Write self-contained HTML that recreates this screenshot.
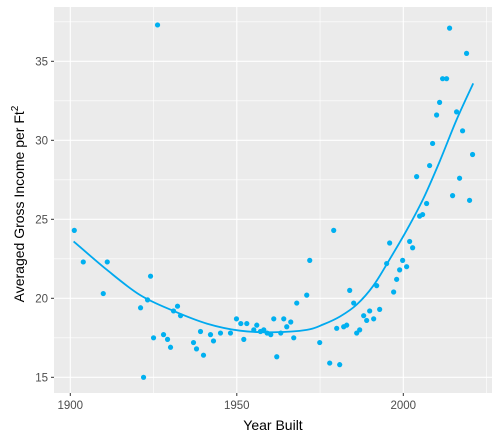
<!DOCTYPE html>
<html><head><meta charset="utf-8"><style>
body{margin:0;background:#fff;font-family:"Liberation Sans",sans-serif}
svg{display:block}
</style></head><body>
<svg id="chart" width="500" height="440">
<rect x="54" y="7" width="438" height="386" fill="#ebebeb"/>
<g id="grid"></g><g id="fit"></g><g id="pts"></g><g id="axes"></g>
<text x="273" y="430" text-anchor="middle" font-size="14" fill="#000">Year Built</text>
<text transform="translate(24,204) rotate(-90)" text-anchor="middle" font-size="14" fill="#000">Averaged Gross Income per Ft<tspan dy="-6" font-size="10">2</tspan></text>
</svg>
<script>
const years=[1901.2,1903.9,1909.9,1911.1,1921.1,1922.0,1923.2,1924.1,1925.0,1926.2,1928.0,1929.2,1930.1,1931.0,1932.2,1933.1,1937.0,1937.9,1939.1,1940.0,1942.1,1943.0,1945.1,1948.1,1949.9,1951.2,1952.1,1953.0,1955.1,1956.0,1957.1,1958.1,1959.1,1960.2,1961.1,1962.0,1963.2,1964.1,1965.0,1966.2,1967.1,1968.0,1971.0,1971.9,1974.9,1977.9,1979.1,1980.0,1980.9,1982.1,1983.0,1983.9,1985.1,1986.0,1986.9,1988.1,1989.0,1989.9,1991.1,1992.0,1992.9,1995.0,1995.9,1997.1,1998.0,1998.9,1999.8,2001.0,2001.9,2002.8,2004.0,2004.9,2005.8,2007.0,2007.9,2008.8,2010.0,2010.9,2011.8,2013.0,2013.9,2014.8,2016.0,2016.9,2017.8,2019.0,2019.9,2020.8];
const incomes=[24.3,22.3,20.3,22.3,19.4,15.0,19.9,21.4,17.5,37.3,17.7,17.4,16.9,19.2,19.5,18.9,17.2,16.8,17.9,16.4,17.7,17.3,17.8,17.8,18.7,18.4,17.4,18.4,18.0,18.3,17.9,18.0,17.8,17.7,18.7,16.3,17.8,18.7,18.2,18.5,17.5,19.7,20.2,22.4,17.2,15.9,24.3,18.1,15.8,18.2,18.3,20.5,19.7,17.8,18.0,18.9,18.6,19.2,18.7,20.8,19.3,22.2,23.5,20.4,21.2,21.8,22.4,22.0,23.6,23.2,27.7,25.2,25.3,26.0,28.4,29.8,31.6,32.4,33.9,33.9,37.1,26.5,31.8,27.6,30.6,35.5,26.2,29.1];
const fitYears=[1901,1911,1921,1931,1941,1951,1961,1971,1976,1981,1986,1991,1996,2001,2006,2011,2016,2021];
const fitValues=[23.6,21.8,20.2,19.2,18.4,17.95,17.85,18.0,18.35,18.85,19.6,20.8,22.5,24.3,26.3,28.7,31.3,33.6];
const xTicks=[1900,1950,2000];
const yTicks=[15,20,25,30,35];
const NS="http://www.w3.org/2000/svg";
const X=v=>70.3+(v-1900)*3.33;
const Y=v=>377.3-(v-15)*15.8;
function mk(t,a,p){const e=document.createElementNS(NS,t);for(const k in a)e.setAttribute(k,a[k]);p.appendChild(e);return e;}
const grid=document.getElementById('grid'),axes=document.getElementById('axes');
for(let i=0;i<xTicks.length;i++){
 const v=xTicks[i];
 const m=mk('line',{x1:X(v+25),x2:X(v+25),y1:7,y2:393,stroke:'#fff','stroke-width':0.6},grid);
 
 const g=mk('line',{x1:X(v),x2:X(v),y1:7,y2:393,stroke:'#fff','stroke-width':1.1},grid);
 
 const tk=mk('line',{x1:X(v),x2:X(v),y1:393,y2:396,stroke:'#333','stroke-width':1},axes);
 
 const t=mk('text',{x:X(v),y:409,'text-anchor':'middle','font-size':11.5,fill:'#4d4d4d'},axes);
 t.textContent=v;
}
for(let i=0;i<yTicks.length;i++){
 const v=yTicks[i];
 const m=mk('line',{x1:54,x2:492,y1:Y(v+2.5),y2:Y(v+2.5),stroke:'#fff','stroke-width':0.6},grid);
 
 const g=mk('line',{x1:54,x2:492,y1:Y(v),y2:Y(v),stroke:'#fff','stroke-width':1.1},grid);
 
 const tk=mk('line',{x1:51,x2:54,y1:Y(v),y2:Y(v),stroke:'#333','stroke-width':1},axes);
 
 const t=mk('text',{x:48,y:Y(v)+4,'text-anchor':'end','font-size':11.5,fill:'#4d4d4d'},axes);
 t.textContent=v;
}
const fitG=document.getElementById('fit');
const P=fitYears.map((y,i)=>[X(y),Y(fitValues[i])]);
let d='M'+P[0][0]+','+P[0][1];
for(let i=0;i<P.length-1;i++){
 const p0=P[i-1]||P[i],p1=P[i],p2=P[i+1],p3=P[i+2]||P[i+1];
 const c1=[p1[0]+(p2[0]-p0[0])/6,p1[1]+(p2[1]-p0[1])/6];
 const c2=[p2[0]-(p3[0]-p1[0])/6,p2[1]-(p3[1]-p1[1])/6];
 d+=' C'+c1[0]+','+c1[1]+' '+c2[0]+','+c2[1]+' '+p2[0]+','+p2[1];
}
const path=mk('path',{d:d,fill:'none',stroke:'#00a9ef','stroke-width':1.8},fitG);


const ptsG=document.getElementById('pts');
for(let i=0;i<years.length;i++){
 const c=mk('circle',{cx:X(years[i]),cy:Y(incomes[i]),r:2.6,fill:'#00b0f0'},ptsG);
 
 
}
</script>
</body></html>
